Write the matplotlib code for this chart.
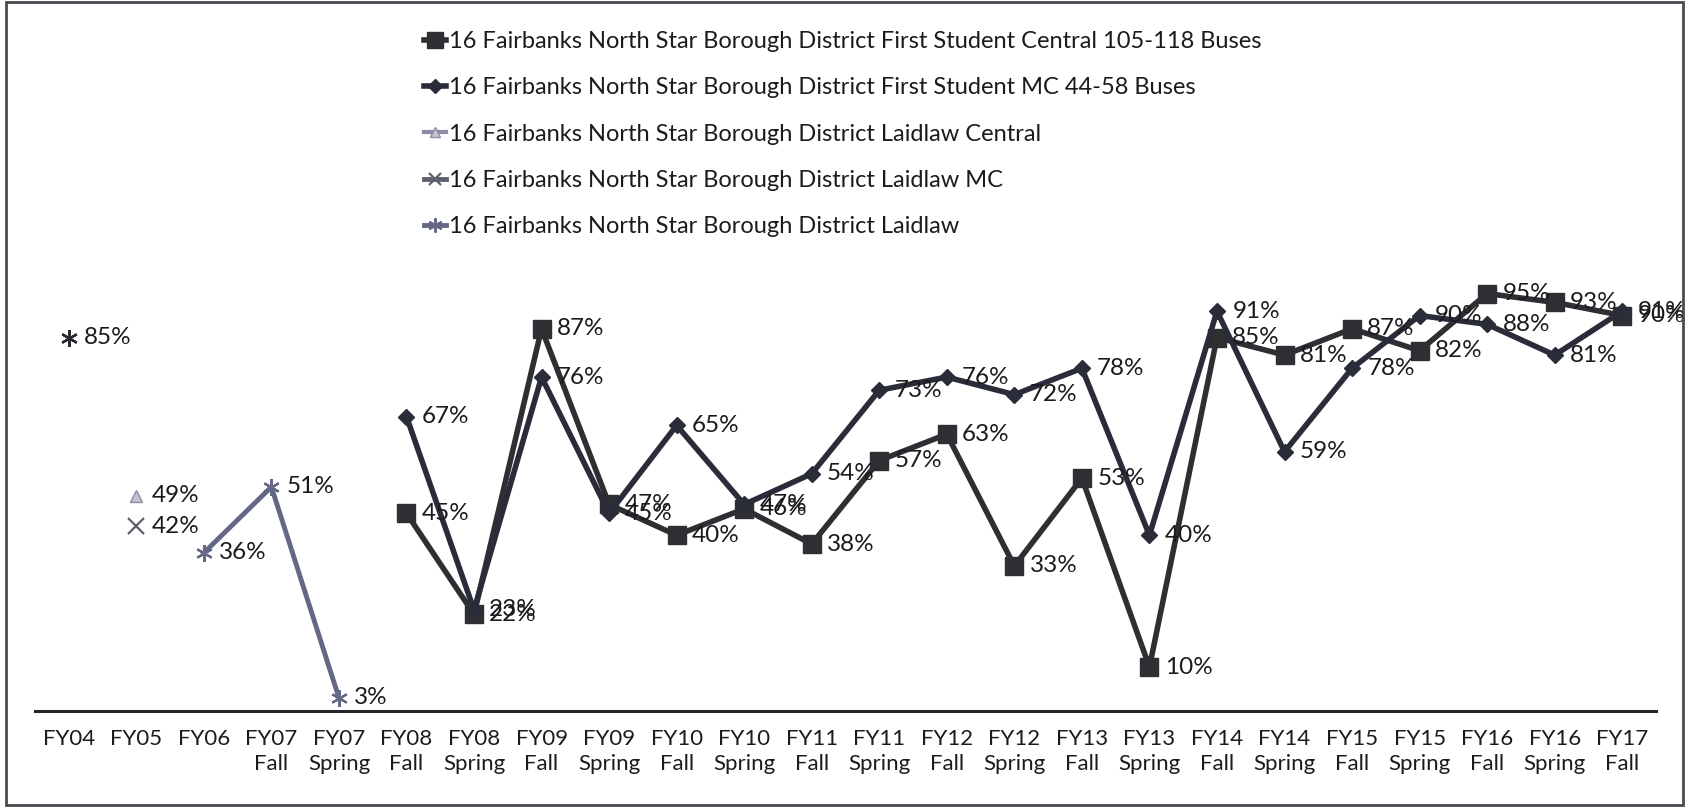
import matplotlib

matplotlib.use("Agg")
import matplotlib.pyplot as plt
import numpy as np
from matplotlib.patches import Rectangle

plt.rcParams["font.family"] = ["Lato", "DejaVu Sans"]

nan = np.nan

CATEGORIES = [
    "FY04", "FY05", "FY06", "FY07\nFall", "FY07\nSpring", "FY08\nFall", "FY08\nSpring",
    "FY09\nFall", "FY09\nSpring", "FY10\nFall", "FY10\nSpring", "FY11\nFall", "FY11\nSpring",
    "FY12\nFall", "FY12\nSpring", "FY13\nFall", "FY13\nSpring", "FY14\nFall", "FY14\nSpring",
    "FY15\nFall", "FY15\nSpring", "FY16\nFall", "FY16\nSpring", "FY17\nFall",
]

# percent values, nan = no data for that period
CENTRAL = [nan] * 5 + [45, 22, 87, 47, 40, 46, 38, 57, 63, 33, 53, 10, 85, 81, 87, 82, 95, 93, 90]
MC = [nan] * 5 + [67, 23, 76, 45, 65, 47, 54, 73, 76, 72, 78, 40, 91, 59, 78, 90, 88, 81, 91]
LAIDLAW_CENTRAL = [nan, 49] + [nan] * 22
LAIDLAW_MC = [nan, 42] + [nan] * 22
LAIDLAW = [85, nan, 36, 51, 3] + [nan] * 19

NAMES = [
    "16 Fairbanks North Star Borough District First Student Central 105-118 Buses",
    "16 Fairbanks North Star Borough District First Student MC 44-58 Buses",
    "16 Fairbanks North Star Borough District Laidlaw Central",
    "16 Fairbanks North Star Borough District Laidlaw MC",
    "16 Fairbanks North Star Borough District Laidlaw",
]

FS = 16
FS_LABEL = 17.5
FS_LEGEND = 17
TXT = "#1b1b1f"

W, H = 1690, 810
fig = plt.figure(figsize=(W / 100, H / 100), dpi=100)
ax = fig.add_axes([35 / W, 99 / H, 1621 / W, 439.4 / H])
x = np.arange(len(CATEGORIES))

series = [
    (CENTRAL, dict(color="#2e2f33", marker="s", ms=13, lw=4)),
    (MC, dict(color="#2a2c3a", marker="D", ms=8.5, lw=4)),
    (LAIDLAW_CENTRAL, dict(color="#8c8ca4", marker="^", ms=9, lw=3, mfc="#c4c4d4", mec="#8c8ca4")),
    (LAIDLAW_MC, dict(color="#5e6070", marker="x", ms=11, lw=3.5, mew=1.6)),
    (LAIDLAW, dict(color="#646885", marker=(6, 2, 0), ms=12, lw=3.5, mew=1.6)),
]

handles = []
for vals, style in series:
    (h,) = ax.plot(x, vals, clip_on=False, zorder=3, **style)
    handles.append(h)
    for xi, v in zip(x, vals):
        if np.isfinite(v):
            ax.annotate(f"{v:.0f}%", (xi, v), xytext=(11, 0), textcoords="offset points",
                        ha="left", va="center", fontsize=FS_LABEL, color=TXT, zorder=5,
                        annotation_clip=False)

# the lone FY04 point is drawn darker in the original
ax.plot(x[0], LAIDLAW[0], ls="none", marker=(6, 2, 0), ms=12, mew=1.6, color="#2a2a2e", zorder=4)

ax.set_xlim(-0.5, len(CATEGORIES) - 0.5)
ax.set_ylim(0, 100)
ax.set_yticks([])
ax.set_xticks(x)
ax.set_xticklabels(CATEGORIES, fontsize=FS, color=TXT, linespacing=1.3)
ax.tick_params(axis="x", length=0, pad=13)
for side in ["left", "right", "top"]:
    ax.spines[side].set_visible(False)
ax.spines["bottom"].set_linewidth(2.2)
ax.spines["bottom"].set_color("#25262c")

fig.legend(handles, NAMES, loc="upper left", bbox_to_anchor=(424 / W, 1 - 31 / H),
           frameon=False, fontsize=FS_LEGEND, handlelength=0.95, handletextpad=0.1,
           labelspacing=1.07, borderpad=0, borderaxespad=0, markerscale=0.85,
           labelcolor=TXT)

fig.add_artist(Rectangle((6 / W, 5 / H), 1677 / W, 803 / H, transform=fig.transFigure,
                         fill=False, lw=2, edgecolor="#4a4a52"))

fig.savefig("out.png", dpi=100)
